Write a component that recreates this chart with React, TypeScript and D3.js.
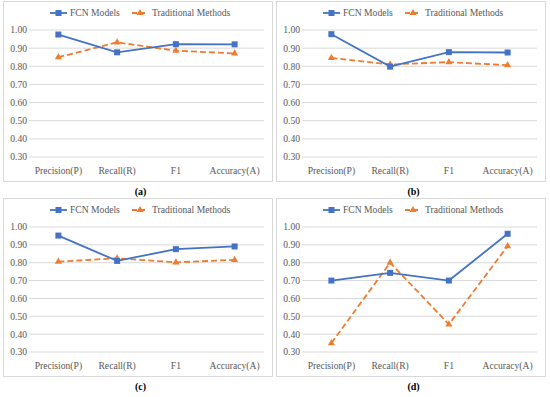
import React from 'react'
import * as d3 from 'd3'

// categories and tick labels
const categories = ['Precision(P)', 'Recall(R)', 'F1', 'Accuracy(A)']
const yTicks = [0.3, 0.4, 0.5, 0.6, 0.7, 0.8, 0.9, 1.0]
const seriesNames = ['FCN Models', 'Traditional Methods']

// values per panel
const fcnA = [0.975, 0.877, 0.922, 0.921]
const tradA = [0.85, 0.932, 0.886, 0.871]
const fcnB = [0.977, 0.798, 0.878, 0.876]
const tradB = [0.846, 0.81, 0.823, 0.806]
const fcnC = [0.952, 0.81, 0.876, 0.891]
const tradC = [0.806, 0.825, 0.802, 0.816]
const fcnD = [0.70, 0.743, 0.70, 0.962]
const tradD = [0.35, 0.80, 0.455, 0.893]

const panelLabels = ['(a)', '(b)', '(c)', '(d)']

const BLUE = '#4472C4'
const ORANGE = '#ED7D31'
const FONT = 'Liberation Serif, DejaVu Serif, serif'
const textStyle = { fontFamily: FONT }
const FS = 9.6

type PanelProps = { x: number; y: number; h: number; fcn: number[]; trad: number[]; label: string }

const Panel = ({ x, y, h, fcn, trad, label }: PanelProps) => {
  const w = 269
  const left = 26
  const right = 8
  const top = 29
  const plotBottom = h - 24

  const xs = d3.scaleBand().domain(categories).range([left, w - right])
  const ys = d3.scaleLinear().domain([0.3, 1.0]).range([plotBottom, top])
  const cx = (c: string) => (xs(c) || 0) + xs.bandwidth() / 2

  const line = d3
    .line<number>()
    .x((_, i) => cx(categories[i]))
    .y((d) => ys(d))

  const tri = d3.symbol().type(d3.symbolTriangle).size(22)()

  return (
    <g transform={`translate(${x},${y})`}>
      <rect x={0.5} y={0.5} width={w} height={h} fill="white" stroke="#d9d9d9" strokeWidth={1} />
      {yTicks.map((t) => (
        <g key={t}>
          <line x1={left} x2={w - right} y1={ys(t)} y2={ys(t)} stroke="#d9d9d9" strokeWidth={1} />
          <text x={left - 2} y={ys(t)} dy="0.35em" textAnchor="end" fontSize={FS} fill="#595959" style={textStyle}>
            {t.toFixed(2)}
          </text>
        </g>
      ))}
      {categories.map((c) => (
        <text key={c} x={cx(c)} y={plotBottom + 17} textAnchor="middle" fontSize={FS} fill="#595959" style={textStyle}>
          {c}
        </text>
      ))}
      {/* traditional methods */}
      <path d={line(trad) || ''} fill="none" stroke={ORANGE} strokeWidth={1.8} strokeDasharray="6,3" />
      {trad.map((v, i) => (
        <path key={i} d={tri || ''} transform={`translate(${cx(categories[i])},${ys(v)})`} fill={ORANGE} />
      ))}
      {/* FCN models */}
      <path d={line(fcn) || ''} fill="none" stroke={BLUE} strokeWidth={1.8} />
      {fcn.map((v, i) => (
        <rect key={i} x={cx(categories[i]) - 3} y={ys(v) - 3} width={6} height={6} fill={BLUE} />
      ))}
      {/* legend */}
      <g transform="translate(0,12)">
        <line x1={47} x2={64} y1={0} y2={0} stroke={BLUE} strokeWidth={1.8} />
        <rect x={52.5} y={-3} width={6} height={6} fill={BLUE} />
        <text x={67} y={0} dy="0.35em" fontSize={FS} fill="#595959" style={textStyle}>{seriesNames[0]}</text>
        <line x1={129} x2={145} y1={0} y2={0} stroke={ORANGE} strokeWidth={1.8} strokeDasharray="5,3" />
        <path d={tri || ''} transform="translate(137,0)" fill={ORANGE} />
        <text x={149} y={0} dy="0.35em" fontSize={FS} fill="#595959" style={textStyle}>{seriesNames[1]}</text>
      </g>
      <text x={w / 2 + 3} y={h + 14} textAnchor="middle" fontSize={10} fontWeight="bold" fill="#000" style={textStyle}>
        {label}
      </text>
    </g>
  )
}

const App = () => {
  return (
    <svg width={550} height={397} style={{ position: 'absolute', left: 0, top: 0, background: 'white' }}>
      <rect width={550} height={397} fill="white" />
      <Panel x={3} y={1} h={180} fcn={fcnA} trad={tradA} label={panelLabels[0]} />
      <Panel x={276} y={1} h={180} fcn={fcnB} trad={tradB} label={panelLabels[1]} />
      <Panel x={3} y={198} h={178} fcn={fcnC} trad={tradC} label={panelLabels[2]} />
      <Panel x={276} y={198} h={178} fcn={fcnD} trad={tradD} label={panelLabels[3]} />
    </svg>
  )
}

export default App
